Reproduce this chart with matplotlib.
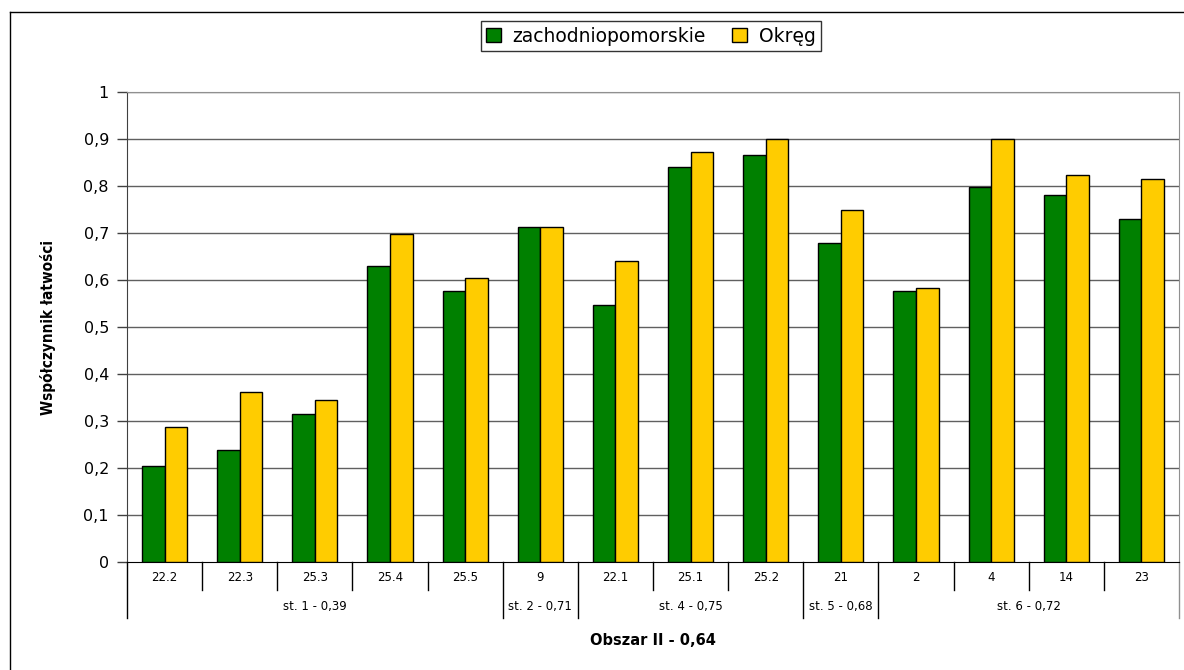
import matplotlib
matplotlib.use('Agg')
import matplotlib.pyplot as plt
import matplotlib.transforms as mtransforms
from matplotlib.lines import Line2D
import numpy as np

# data
categories = ['22.2', '22.3', '25.3', '25.4', '25.5', '9', '22.1', '25.1', '25.2',
              '21', '2', '4', '14', '23']
zachodniopomorskie = [0.204, 0.239, 0.316, 0.629, 0.577, 0.713, 0.548, 0.840, 0.865,
                      0.679, 0.577, 0.799, 0.780, 0.731]
okreg = [0.288, 0.362, 0.345, 0.699, 0.605, 0.713, 0.640, 0.872, 0.900,
         0.749, 0.584, 0.900, 0.823, 0.816]
group_labels = ['st. 1 - 0,39', 'st. 2 - 0,71', 'st. 4 - 0,75', 'st. 5 - 0,68', 'st. 6 - 0,72']
group_sizes = [5, 1, 3, 1, 4]
yticks = [0, 0.1, 0.2, 0.3, 0.4, 0.5, 0.6, 0.7, 0.8, 0.9, 1]
ytick_labels = ['0', '0,1', '0,2', '0,3', '0,4', '0,5', '0,6', '0,7', '0,8', '0,9', '1']

fig = plt.figure(figsize=(11.84, 6.70), dpi=100)
ax = fig.add_axes([127/1184, (670-562.3)/670, 1052/1184, 470.3/670])

x = np.arange(len(categories))
w = 0.30
ax.bar(x - w/2, zachodniopomorskie, w, color='#008000', edgecolor='black', linewidth=1,
       label='zachodniopomorskie', zorder=3)
ax.bar(x + w/2, okreg, w, color='#FFCC00', edgecolor='black', linewidth=1,
       label='Okręg', zorder=3)

ax.set_xlim(-0.5, len(categories) - 0.5)
ax.set_ylim(0, 1)
ax.set_yticks(yticks)
ax.set_yticklabels(ytick_labels, fontsize=11.5, family='DejaVu Sans')
ax.tick_params(axis='y', direction='out', length=7, width=1, color='#404040', pad=6)
ax.set_xticks([])
for v in yticks[1:]:
    ax.axhline(v, color='#606060', linewidth=1, zorder=1)

ax.spines['left'].set_color('#404040')
ax.spines['bottom'].set_color('black')
ax.spines['top'].set_color('#909090')
ax.spines['right'].set_color('#909090')

# multi level category axis
trans = mtransforms.blended_transform_factory(ax.transData, ax.transAxes)
for i, c in enumerate(categories):
    ax.text(i, -0.033, c, transform=trans, ha='center', va='center', fontsize=8.5)
bounds = np.cumsum([0] + group_sizes) - 0.5
for b in np.arange(len(categories) + 1) - 0.5:
    if b in bounds:
        col = '#909090' if b == bounds[-1] else 'black'
        ax.add_line(Line2D([b, b], [0, -0.118], transform=trans, color=col,
                           linewidth=1, clip_on=False))
    else:
        ax.add_line(Line2D([b, b], [0, -0.059], transform=trans, color='black',
                           linewidth=1, clip_on=False))
for j, g in enumerate(group_labels):
    mid = (bounds[j] + bounds[j + 1]) / 2
    ax.text(mid, -0.093, g, transform=trans, ha='center', va='center', fontsize=8.5)

ax.text(0.5, -0.167, 'Obszar II - 0,64', transform=ax.transAxes, ha='center',
        va='center', fontsize=10.5, fontweight='bold')
ax.text(-0.075, 0.5, 'Współczynnik łatwości', transform=ax.transAxes, rotation=90,
        ha='center', va='center', fontsize=11, fontweight='bold',
        family='DejaVu Sans', fontstretch='condensed')

leg = fig.legend(loc='center', bbox_to_anchor=(651/1184, 1 - 36/670), ncol=2,
                 frameon=True, fancybox=False, edgecolor='black', fontsize=13.5,
                 handlelength=0.8, handleheight=0.8, handletextpad=0.6,
                 columnspacing=1.4, borderpad=0.3)
leg.get_frame().set_linewidth(1)

# outer chart frame
fig.add_artist(Line2D([10/1184, 1], [1 - 12/670, 1 - 12/670], transform=fig.transFigure,
                      color='black', linewidth=1))
fig.add_artist(Line2D([10/1184, 10/1184], [0, 1 - 12/670], transform=fig.transFigure,
                      color='black', linewidth=1))

fig.savefig('out.png', dpi=100)
